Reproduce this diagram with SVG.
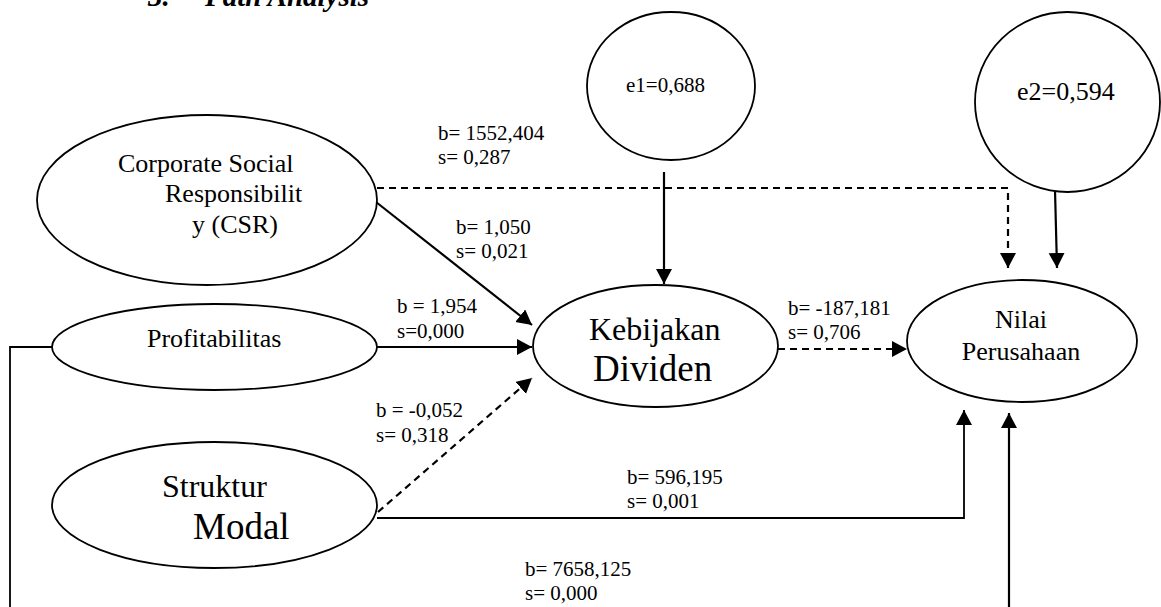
<svg xmlns="http://www.w3.org/2000/svg" width="1161" height="607" viewBox="0 0 1161 607">
<style>
text { font-family: "Liberation Serif", "Times New Roman", serif; fill: #000; }
.node { fill: #fff; stroke: #000; stroke-width: 1.8; }
.lbl { font-size: 21px; }
.c { stroke: #000; stroke-width: 2.2; fill: none; }
.thin { stroke: #000; stroke-width: 1.8; fill: none; }
.dash { stroke-dasharray: 7 5; }
.title { font-size: 29px; font-weight: bold; font-style: italic; }
</style>
<defs>
<marker id="ah" markerUnits="userSpaceOnUse" markerWidth="16" markerHeight="18" viewBox="0 0 16 18" refX="15" refY="8" orient="auto">
<path d="M0,0 L15,8 L0,16 Z" fill="#000" stroke="none"/>
</marker>
</defs>

<g id="title">
<text class="title" x="148" y="6">3.</text>
<text class="title" x="205" y="6">Path Analysis</text>
</g>

<g id="connectors">
<!-- CSR -> Nilai (dashed, elbow) -->
<polyline class="c dash" points="377,188 1008,188 1008,268" marker-end="url(#ah)"/>
<!-- CSR -> Kebijakan -->
<line class="c" x1="376" y1="202" x2="532" y2="325" marker-end="url(#ah)"/>
<!-- Profitabilitas -> Kebijakan -->
<line class="c" x1="377" y1="347" x2="532" y2="347" marker-end="url(#ah)"/>
<!-- Struktur -> Kebijakan (dashed) -->
<line class="c dash" x1="378" y1="512" x2="532" y2="378" marker-end="url(#ah)"/>
<!-- Kebijakan -> Nilai (dashed) -->
<line class="c dash" x1="778" y1="349" x2="907" y2="349" marker-end="url(#ah)"/>
<!-- e1 -> Kebijakan -->
<line class="c" x1="664" y1="172" x2="664" y2="284" marker-end="url(#ah)"/>
<!-- e2 -> Nilai -->
<line class="c" x1="1055" y1="190" x2="1057" y2="268" marker-end="url(#ah)"/>
<!-- Struktur -> Nilai (elbow) -->
<polyline class="thin" points="377,518 964,518 964,410" marker-end="url(#ah)"/>
<!-- Profitabilitas -> Nilai (bracket, clipped) -->
<polyline class="thin" points="52,347 10,347 10,607"/>
<line class="c" x1="1009" y1="607" x2="1009" y2="413" marker-end="url(#ah)"/>
</g>

<g id="labels">
<text class="lbl" x="438" y="140">b= 1552,404</text>
<text class="lbl" x="438" y="164">s= 0,287</text>
<text class="lbl" x="456" y="234">b= 1,050</text>
<text class="lbl" x="456" y="258">s= 0,021</text>
<text class="lbl" x="397" y="313">b = 1,954</text>
<text class="lbl" x="397" y="338">s=0,000</text>
<text class="lbl" x="376" y="417">b = -0,052</text>
<text class="lbl" x="376" y="442">s= 0,318</text>
<text class="lbl" x="788" y="315">b= -187,181</text>
<text class="lbl" x="788" y="339">s= 0,706</text>
<text class="lbl" x="627" y="484">b= 596,195</text>
<text class="lbl" x="627" y="508">s= 0,001</text>
<text class="lbl" x="525" y="576">b= 7658,125</text>
<text class="lbl" x="525" y="600">s= 0,000</text>
</g>

<g id="csr">
<ellipse class="node" cx="207" cy="200" rx="170" ry="85"/>
<text x="118" y="172" font-size="26">Corporate Social</text>
<text x="165" y="202" font-size="26">Responsibilit</text>
<text x="192" y="233" font-size="26">y (CSR)</text>
</g>

<g id="profitabilitas">
<ellipse class="node" cx="214.5" cy="347" rx="162.5" ry="43"/>
<text x="147" y="347" font-size="26">Profitabilitas</text>
</g>

<g id="struktur-modal">
<ellipse class="node" cx="214.5" cy="505" rx="162.5" ry="63"/>
<text x="162" y="497" font-size="32">Struktur</text>
<text x="193" y="539" font-size="37">Modal</text>
</g>

<g id="kebijakan-dividen">
<ellipse class="node" cx="655.5" cy="346" rx="122.5" ry="61"/>
<text x="589" y="340" font-size="32">Kebijakan</text>
<text x="593" y="381" font-size="37">Dividen</text>
</g>

<g id="nilai-perusahaan">
<ellipse class="node" cx="1022" cy="341" rx="115" ry="61"/>
<text x="1021" y="328" font-size="26" text-anchor="middle">Nilai</text>
<text x="1021" y="360" font-size="26" text-anchor="middle">Perusahaan</text>
</g>

<g id="e1">
<ellipse class="node" cx="671" cy="86" rx="84" ry="74"/>
<text x="626" y="92" font-size="21">e1=0,688</text>
</g>

<g id="e2">
<ellipse class="node" cx="1067.5" cy="102" rx="92.5" ry="90"/>
<text x="1017" y="100" font-size="26">e2=0,594</text>
</g>
</svg>
